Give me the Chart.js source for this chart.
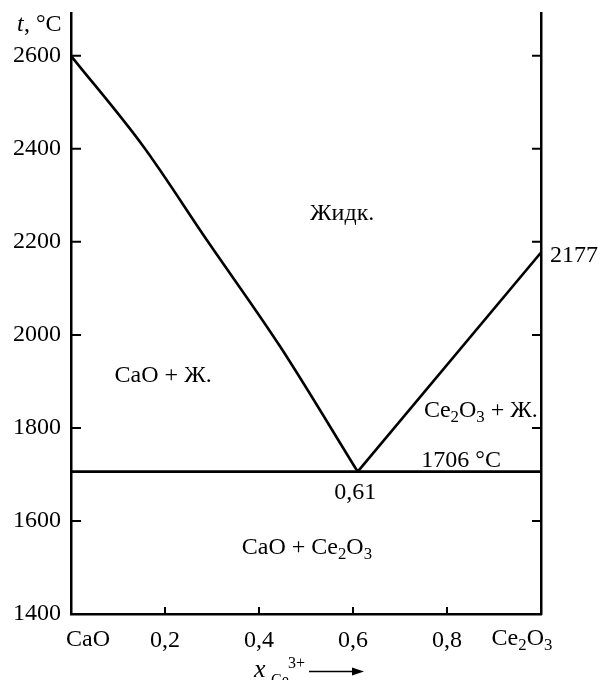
<!DOCTYPE html>
<html>
<head>
<meta charset="utf-8">
<script src="https://cdn.jsdelivr.net/npm/chart.js@4"></script>
<style>
  body { margin: 0; background: #fff; }
</style>
</head>
<body>
<canvas id="phaseChart" width="602" height="680"></canvas>
<script>
'use strict';

// composition x(Ce3+) and temperature, °C
var leftLiquidusX = [0, 0.154, 0.289, 0.445, 0.61];
var leftLiquidusT = [2600, 2405, 2204, 1975, 1706];
var rightLiquidusX = [0.61, 1];
var rightLiquidusT = [1706, 2177];
var eutecticX = [0, 1];
var eutecticT = [1706, 1706];

var xTickLabels = ['CaO', '0,2', '0,4', '0,6', '0,8', 'Ce_2O_3'];
var yTickLabels = ['1400', '1600', '1800', '2000', '2200', '2400', '2600'];

var FONT = '"Liberation Serif", "Times New Roman", serif';

var toPoints = function(xs, ys){
  return xs.map(function(x, i){ return {x: x, y: ys[i]}; });
};

// text with _N subscripts and ^N superscripts
var richText = function(ctx, str, x, y, align, size){
  size = size || 24;
  var parts = str.split(/([_^][^\s])/).filter(function(s){ return s.length; }).map(function(s){
    if (s[0] === '_') return {t: s.slice(1), dy: 5, size: size * 0.7};
    if (s[0] === '^') return {t: s.slice(1), dy: -9, size: size * 0.7};
    return {t: s, dy: 0, size: size};
  });
  var w = 0;
  parts.forEach(function(p){ ctx.font = p.size + 'px ' + FONT; p.w = ctx.measureText(p.t).width; w += p.w; });
  var cx = align === 'center' ? x - w / 2 : (align === 'right' ? x - w : x);
  ctx.textAlign = 'left';
  ctx.textBaseline = 'alphabetic';
  parts.forEach(function(p){
    ctx.font = p.size + 'px ' + FONT;
    ctx.fillText(p.t, cx, y + p.dy);
    cx += p.w;
  });
};

var diagramPlugin = {
  id: 'diagram',
  afterDraw: function(chart){
    var ctx = chart.ctx, a = chart.chartArea;
    var xs = chart.scales.x, ys = chart.scales.y;
    var px = function(v){ return xs.getPixelForValue(v); };
    var py = function(v){ return ys.getPixelForValue(v); };
    ctx.save();
    ctx.strokeStyle = '#000';
    ctx.fillStyle = '#000';
    ctx.lineWidth = 2;

    // inward tick marks
    ctx.beginPath();
    yTickLabels.forEach(function(l){
      var y = py(+l);
      if (+l === ys.min) return;
      ctx.moveTo(a.left, y); ctx.lineTo(a.left + 10, y);
      ctx.moveTo(a.right, y); ctx.lineTo(a.right - 9, y);
    });
    xTickLabels.forEach(function(l, i){
      if (i === 0 || i === xTickLabels.length - 1) return;
      var x = px(i / (xTickLabels.length - 1));
      ctx.moveTo(x, a.bottom); ctx.lineTo(x, a.bottom - 7);
    });
    ctx.stroke();

    // end tick labels with subscripts
    richText(ctx, xTickLabels[0], px(0) + 17, a.bottom + 32, 'center');
    richText(ctx, xTickLabels[xTickLabels.length - 1], px(1) - 19, a.bottom + 31, 'center');

    // axis titles
    ctx.font = 'italic 24px ' + FONT;
    ctx.textAlign = 'left';
    ctx.fillText('t', 17, 31);
    ctx.font = '24px ' + FONT;
    ctx.fillText(', °C', 24, 31);

    ctx.font = 'italic 26px ' + FONT;
    ctx.fillText('x', 254, 677);
    ctx.font = '16px ' + FONT;
    ctx.fillText('Ce', 271, 685);
    ctx.fillText('3+', 288, 668);
    ctx.beginPath();
    ctx.moveTo(309, 671.5); ctx.lineTo(354, 671.5);
    ctx.lineWidth = 1.5;
    ctx.stroke();
    ctx.beginPath();
    ctx.moveTo(364, 671.5); ctx.lineTo(352, 667.5); ctx.lineTo(352, 675.5);
    ctx.closePath();
    ctx.fill();

    // field labels
    richText(ctx, 'Жидк.', px(0.577), py(2247), 'center');
    richText(ctx, 'CaO + Ж.', px(0.196), py(1899), 'center');
    richText(ctx, 'Ce_2O_3 + Ж.', px(0.872), py(1824), 'center');
    richText(ctx, '1706 °C', px(0.83), py(1716), 'center');
    richText(ctx, '0,61', px(0.605), py(1647), 'center');
    richText(ctx, 'CaO + Ce_2O_3', px(0.502), py(1529), 'center');
    richText(ctx, '2177', a.right + 9, py(2177) + 9, 'left');

    ctx.restore();
  }
};

var lineStyle = {
  borderColor: '#000',
  borderWidth: 2.6,
  pointRadius: 0,
  fill: false
};

Chart.defaults.font.family = FONT;
Chart.defaults.font.size = 24;
Chart.defaults.color = '#000';

var axisBorder = {display: true, color: '#000', width: 2.5};
var noGrid = {display: true, drawOnChartArea: false, drawTicks: false, color: 'rgba(0,0,0,0)'};

var fitWidth = function(w){
  return function(s){ s.width = w; s.paddingTop = 0; s.paddingBottom = 0; };
};

new Chart(document.getElementById('phaseChart').getContext('2d'), {
  type: 'line',
  data: {
    datasets: [
      Object.assign({data: toPoints(leftLiquidusX, leftLiquidusT), cubicInterpolationMode: 'monotone'}, lineStyle),
      Object.assign({data: toPoints(rightLiquidusX, rightLiquidusT)}, lineStyle),
      Object.assign({data: toPoints(eutecticX, eutecticT)}, lineStyle)
    ]
  },
  options: {
    responsive: false,
    animation: false,
    layout: {padding: {top: 13, left: 0, right: 0, bottom: 0}},
    plugins: {legend: {display: false}, tooltip: {enabled: false}},
    scales: {
      x: {
        type: 'linear', min: 0, max: 1,
        grid: noGrid, border: axisBorder,
        afterFit: function(s){ s.height = 66; s.paddingLeft = 0; s.paddingRight = 0; },
        ticks: {
          stepSize: 0.2, padding: 12, maxRotation: 0,
          callback: function(v, i){
            return (i === 0 || i === xTickLabels.length - 1) ? '' : xTickLabels[i];
          }
        }
      },
      y: {
        type: 'linear', min: 1400, max: 2692,
        grid: noGrid, border: axisBorder,
        afterFit: fitWidth(71),
        ticks: {
          stepSize: 200, includeBounds: false, padding: 10,
          callback: function(v, i){ return yTickLabels[i]; }
        }
      },
      y2: {
        type: 'linear', position: 'right', min: 1400, max: 2692,
        grid: noGrid, border: axisBorder,
        afterFit: fitWidth(61),
        ticks: {display: false}
      }
    }
  },
  plugins: [diagramPlugin]
});
</script>
</body>
</html>
